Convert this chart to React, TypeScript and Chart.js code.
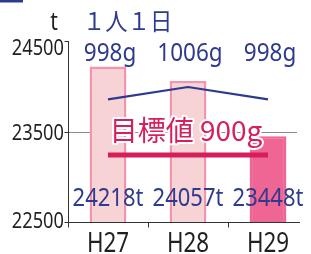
import { useEffect, useRef } from "react";
import { Chart, registerables } from "chart.js";

Chart.register(...registerables);

const categories = ["H27", "H28", "H29"];
const totalTonnes = [24218, 24057, 23448];
const totalLabels = ["24218t", "24057t", "23448t"];
const perPersonGrams = [998, 1006, 998];
const perPersonLabels = ["998g", "1006g", "998g"];
const yTickValues = [22500, 23500, 24500];
const yTickLabels = ["22500", "23500", "24500"];
const targetLevel = [23240, 23240, 23240];
const targetText = "目標値 900g";
const unitText = "t";
const perPersonTitle = "１人１日";

const NAVY = "#2E3A8F";
const AXIS = "#333333";

function drawText(
  ctx: CanvasRenderingContext2D,
  text: string,
  x: number,
  y: number,
  font: string,
  color: string,
  sx: number,
  align: CanvasTextAlign = "center",
  outline = 0
) {
  ctx.save();
  ctx.translate(x, y);
  ctx.scale(sx, 1);
  ctx.font = font;
  ctx.textAlign = align;
  ctx.textBaseline = "alphabetic";
  if (outline > 0) {
    ctx.lineWidth = outline;
    ctx.strokeStyle = "#ffffff";
    ctx.lineJoin = "round";
    ctx.strokeText(text, 0, 0);
  }
  ctx.fillStyle = color;
  ctx.fillText(text, 0, 0);
  ctx.restore();
}

const decorPlugin = {
  id: "decor",
  beforeDatasetsDraw(chart: any) {
    const ctx = chart.ctx as CanvasRenderingContext2D;
    const area = chart.chartArea;
    const y = chart.scales.y;
    ctx.save();
    ctx.strokeStyle = "#8a8a8a";
    ctx.lineWidth = 1;
    yTickValues.forEach((v) => {
      if (v <= y.min || v >= y.max) return;
      const py = Math.round(y.getPixelForValue(v)) + 0.5;
      ctx.beginPath();
      ctx.moveTo(area.left, py);
      ctx.lineTo(area.right - 11, py);
      ctx.stroke();
    });
    ctx.restore();
  },
  afterDatasetsDraw(chart: any) {
    const ctx = chart.ctx as CanvasRenderingContext2D;
    const area = chart.chartArea;
    const x = chart.scales.x;
    const y = chart.scales.y;
    const left = Math.round(area.left) + 0.5;
    const bottom = Math.round(area.bottom) + 0.5;

    ctx.save();
    ctx.strokeStyle = AXIS;
    ctx.lineWidth = 1;
    // y axis
    ctx.beginPath();
    ctx.moveTo(left, area.top);
    ctx.lineTo(left, bottom);
    ctx.stroke();
    yTickValues.forEach((v) => {
      const py = Math.round(y.getPixelForValue(v)) + 0.5;
      ctx.beginPath();
      ctx.moveTo(left - 4, py);
      ctx.lineTo(left, py);
      ctx.stroke();
    });
    // x axis
    ctx.beginPath();
    ctx.moveTo(left, bottom);
    ctx.lineTo(area.right - 8, bottom);
    ctx.stroke();
    const w = x.getPixelForValue(1) - x.getPixelForValue(0);
    categories.forEach((_, i) => {
      const px = Math.round(x.getPixelForValue(i) - w / 2) + 0.5;
      ctx.beginPath();
      ctx.moveTo(px, bottom);
      ctx.lineTo(px, bottom + 5);
      ctx.stroke();
    });
    ctx.restore();

    // y tick labels
    yTickValues.forEach((v, i) => {
      const py = y.getPixelForValue(v);
      const base = Math.min(Math.max(py + 8, area.top + 14), area.bottom + 6);
      drawText(ctx, yTickLabels[i], area.left - 4, base, "22px 'Noto Sans'", "#231F20", 0.83, "right");
    });
    // category labels
    categories.forEach((c, i) => {
      drawText(ctx, c, x.getPixelForValue(i), area.bottom + 30, "28px 'Noto Sans'", "#231F20", 0.8, "center");
    });
    // per-person labels
    perPersonLabels.forEach((t, i) => {
      drawText(ctx, t, x.getPixelForValue(i) + 2, area.top + 20, "25px 'Noto Sans'", NAVY, 0.9, "center");
    });
    // total labels
    totalLabels.forEach((t, i) => {
      drawText(ctx, t, x.getPixelForValue(i), area.bottom - 16, "25px 'Noto Sans'", NAVY, 0.88, "center");
    });
    // target text
    drawText(ctx, targetText, x.getPixelForValue(1) - 2, y.getPixelForValue(targetLevel[1]) - 14, "28px 'Noto Sans CJK JP'", "#D6205E", 1, "center", 4);
    // unit and title
    drawText(ctx, unitText, area.left - 14, area.top - 11, "25px 'Noto Sans'", "#231F20", 0.85, "center");
    drawText(ctx, perPersonTitle, area.left + 15, area.top - 11, "24px 'Noto Sans CJK JP'", NAVY, 0.93, "left");
    // top-left fragment
    ctx.save();
    ctx.fillStyle = NAVY;
    ctx.fillRect(0, 0, 23, 2.5);
    ctx.restore();
  },
};

export default function App() {
  const ref = useRef<HTMLCanvasElement | null>(null);
  useEffect(() => {
    document.body.style.margin = "0";
    if (!ref.current) return;
    const chart = new Chart(ref.current, {
      type: "bar",
      data: {
        labels: categories,
        datasets: [
          {
            type: "line",
            data: perPersonGrams,
            yAxisID: "y2",
            borderColor: "#2B3990",
            borderWidth: 2.2,
            pointRadius: 0,
            tension: 0,
            order: 1,
          } as any,
          {
            type: "line",
            data: targetLevel,
            yAxisID: "y",
            borderColor: "#D81E5A",
            borderWidth: 5,
            borderCapStyle: "butt",
            pointRadius: 0,
            order: 2,
          } as any,
          {
            type: "bar",
            data: totalTonnes,
            yAxisID: "y",
            backgroundColor: ["#F7D3D6", "#F7D3D6", "#EF6593"],
            borderColor: ["#F294AE", "#F294AE", "#EF6593"],
            borderWidth: 2.5,
            barPercentage: 0.46,
            categoryPercentage: 1,
            order: 3,
          } as any,
        ],
      },
      options: {
        animation: false,
        responsive: true,
        maintainAspectRatio: false,
        layout: { padding: { left: 68, top: 41, right: 3, bottom: 32 } },
        plugins: { legend: { display: false }, tooltip: { enabled: false } },
        scales: {
          x: { display: false },
          y: { display: false, min: 22500, max: 24500 },
          y2: { display: false, min: 918.3, max: 1035.9, position: "right" },
        },
      },
      plugins: [decorPlugin],
    });
    return () => chart.destroy();
  }, []);
  return (
    <div style={{ width: 311, height: 254, position: "relative", background: "#fff" }}>
      <canvas ref={ref} />
    </div>
  );
}
